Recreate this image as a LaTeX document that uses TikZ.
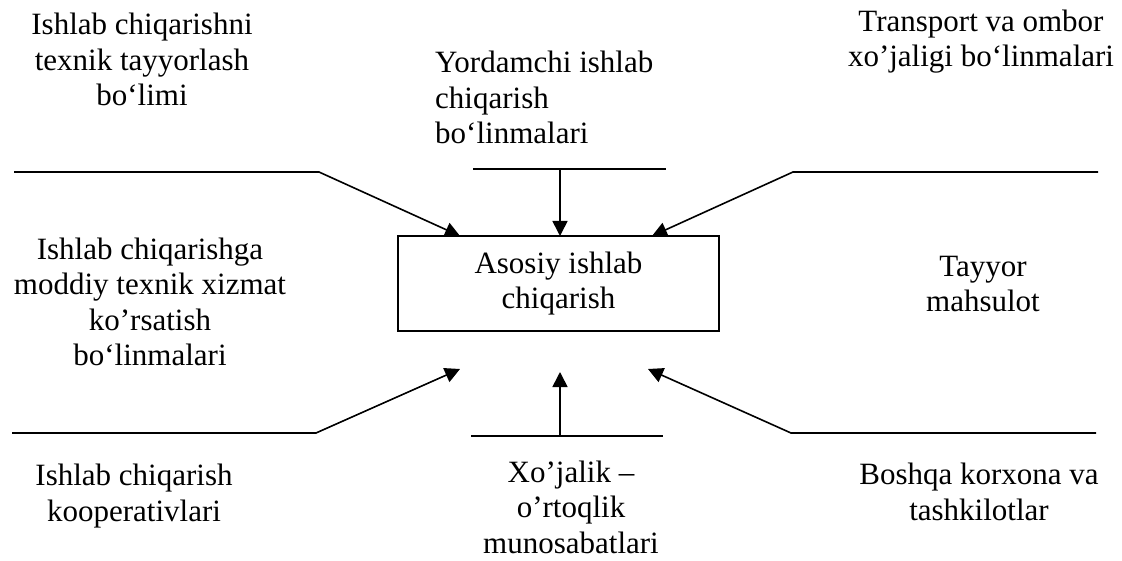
\documentclass[tikz,border=0pt]{standalone}
\usepackage{fontspec}
\setmainfont{Liberation Serif}
\usetikzlibrary{arrows.meta}
\begin{document}
\begin{tikzpicture}[x=1pt,y=-1pt,
  lbl/.style={inner sep=0pt,align=center,anchor=base,
    font=\fontsize{31}{35.5}\selectfont},
  lline/.style={line width=1.6pt},
  feed/.style={line width=1.6pt,-{Triangle[length=15pt,width=15pt]}},
  mainbox/.style={draw,line width=1.6pt,minimum width=321pt,minimum height=95pt,
    inner sep=0pt,align=center,font=\fontsize{31}{35.5}\selectfont}]
\useasboundingbox (0,0) rectangle (1122,561);

% central block
\node[mainbox] (main) at (558.5,283.5) {Asosiy ishlab\\chiqarish};

% labels around the block (placed by the baseline of their last line)
\node[lbl] (tl) at (142,106) {Ishlab chiqarishni\\texnik tayyorlash\\bo‘limi};
\node[lbl,align=left,anchor=base west] (tc) at (435,144) {Yordamchi ishlab\\chiqarish\\bo‘linmalari};
\node[lbl] (tr) at (981,67) {Transport va ombor\\xo’jaligi bo‘linmalari};
\node[lbl] (lm) at (150,366) {Ishlab chiqarishga\\moddiy texnik xizmat\\ko’rsatish\\bo‘linmalari};
\node[lbl] (rm) at (983,312) {Tayyor\\mahsulot};
\node[lbl] (bl) at (134,521) {Ishlab chiqarish\\kooperativlari};
\node[lbl] (bc) at (571,553) {Xo’jalik –\\o’rtoqlik\\munosabatlari};
\node[lbl] (br) at (979,520) {Boshqa korxona va\\tashkilotlar};

% line ends and arrow tips
\coordinate (tlA) at (14,172);   \coordinate (tlB) at (319,172);  \coordinate (tlT) at (460,236);
\coordinate (tcA) at (473,169);  \coordinate (tcB) at (666,169);  \coordinate (tcM) at (560,169);
\coordinate (tcT) at (560,236);
\coordinate (trA) at (1098,172); \coordinate (trB) at (793,172);  \coordinate (trT) at (652,236);
\coordinate (blA) at (12,433);   \coordinate (blB) at (316,433);  \coordinate (blT) at (460,369);
\coordinate (bcA) at (471,436);  \coordinate (bcB) at (663,436);  \coordinate (bcM) at (560,436);
\coordinate (bcT) at (560,372);
\coordinate (brA) at (1096,433); \coordinate (brB) at (791,433);  \coordinate (brT) at (648,369);

% connectors
\draw[feed] (tlA) -- (tlB) -- (tlT);
\draw[lline] (tcA) -- (tcB);
\draw[feed] (tcM) -- (tcT);
\draw[feed] (trA) -- (trB) -- (trT);
\draw[feed] (blA) -- (blB) -- (blT);
\draw[lline] (bcA) -- (bcB);
\draw[feed] (bcM) -- (bcT);
\draw[feed] (brA) -- (brB) -- (brT);
\end{tikzpicture}
\end{document}
